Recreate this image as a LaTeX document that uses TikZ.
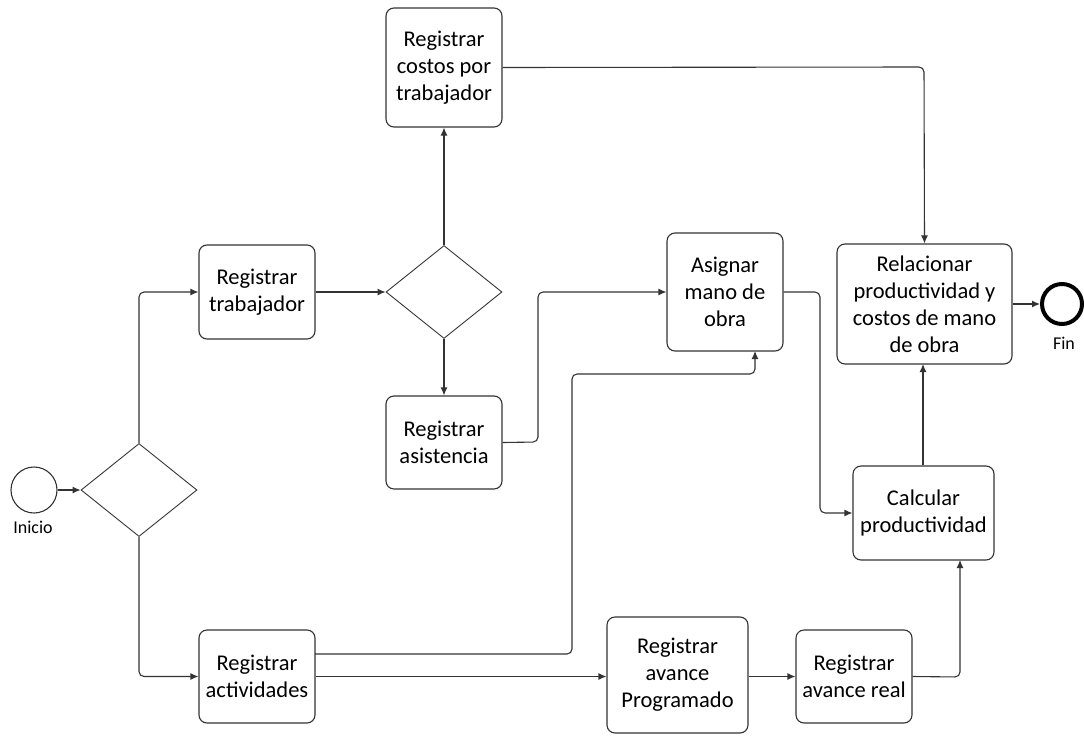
\documentclass[tikz,border=0pt]{standalone}
\usepackage{fontspec}
\setmainfont{Carlito}
\usetikzlibrary{arrows.meta,shapes.geometric}
\definecolor{ln}{HTML}{333333}
\tikzset{
  task/.style={draw=ln,line width=1.1pt,rounded corners=8pt,align=center,inner sep=2pt,
    font=\fontsize{22.5}{27}\selectfont,text=black},
  gate/.style={draw=ln,line width=0.9pt,diamond,inner sep=0pt,minimum width=116pt,minimum height=93pt},
  flow/.style={draw=ln,line width=1.1pt,rounded corners=5pt,-{Latex[length=8pt,width=7pt]}},
  lab/.style={font=\fontsize{18}{20}\selectfont,text=black}
}
\begin{document}
\begin{tikzpicture}[x=1pt,y=-1pt]
\useasboundingbox (0,0) rectangle (1084,736);
% events
\node[circle,draw=ln,line width=1.1pt,minimum size=46pt,inner sep=0pt] (ini) at (34,490) {};
\node[lab] (inil) at (33,527) {Inicio};
\node[circle,draw=black,line width=4pt,minimum size=40pt,inner sep=0pt] (fin) at (1062,304) {};
\node[lab] (finl) at (1064,343) {Fin};
% gateways
\node[gate] (g1) at (139,490) {};
\node[gate] (g2) at (444,292) {};
% tasks
\node[task,minimum width=116pt,minimum height=94pt] (trab) at (257,292) {Registrar\\trabajador};
\node[task,minimum width=116pt,minimum height=119pt] (cost) at (444,67.5) {Registrar\\costos por\\trabajador};
\node[task,minimum width=116pt,minimum height=93pt] (asis) at (444,442.5) {Registrar\\asistencia};
\node[task,minimum width=116pt,minimum height=118pt] (asig) at (725,292) {Asignar\\mano de\\obra};
\node[task,minimum width=175pt,minimum height=120pt] (rel) at (924.5,304) {Relacionar\\productividad y\\costos de mano\\de obra};
\node[task,minimum width=141pt,minimum height=94pt] (calc) at (923.5,513) {Calcular\\productividad};
\node[task,minimum width=116pt,minimum height=93pt] (act) at (257,676.5) {Registrar\\actividades};
\node[task,minimum width=141pt,minimum height=116pt] (prog) at (677.5,675) {Registrar\\avance\\Programado};
\node[task,minimum width=116pt,minimum height=93pt] (real) at (854,676.5) {Registrar\\avance real};
% coordinates
\coordinate (asisout) at (asis.east);
\coordinate (actup) at (315,654);
\coordinate (asigbot) at (755,351);
\coordinate (calcbot) at (960,560);
% flows
\draw[flow] (ini) -- (g1.west);
\draw[flow] (g1.north) |- (trab.west);
\draw[flow] (g1.south) |- (act.west);
\draw[flow] (trab) -- (g2.west);
\draw[flow] (g2.north) -- (cost.south);
\draw[flow] (g2.south) -- (asis.north);
\draw[flow] (asisout) -- (538,442) -- (538,292) -- (asig.west);
\draw[flow] (cost.east) -- (924,67) -- (rel.north);
\draw[flow] (actup) -- (572,654) -- (572,374) -- (755,374) -- (asigbot);
\draw[flow] (act.east) -- (prog.west |- act.east);
\draw[flow] (prog.east |- real.west) -- (real.west);
\draw[flow] (real.east) -- (960,677) -- (calcbot);
\draw[flow] (asig.east) -- (820,292) -- (820,513) -- (calc.west);
\draw[flow] (calc.north -| 923,0) -- (923,364);
\draw[flow] (rel.east) -- (fin.west);
\end{tikzpicture}
\end{document}
